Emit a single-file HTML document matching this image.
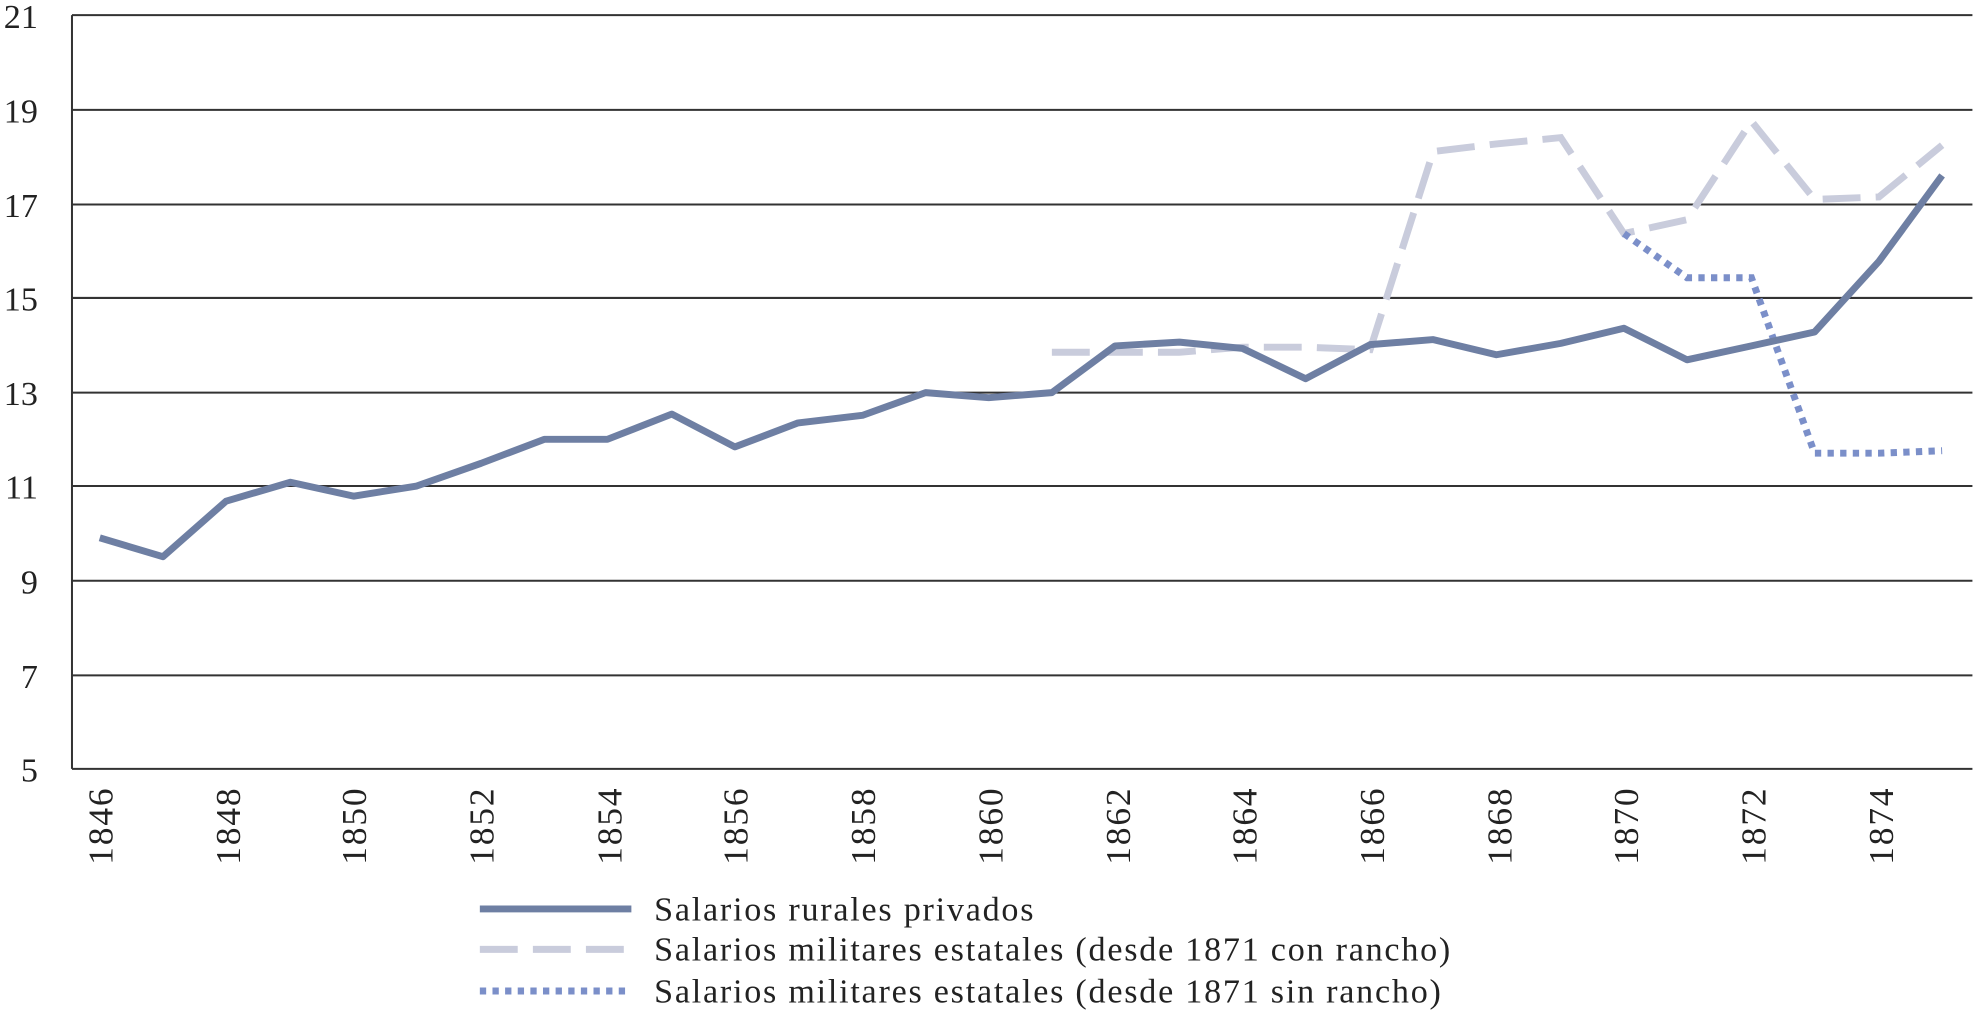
<!DOCTYPE html>
<html><head><meta charset="utf-8"><style>
html,body{margin:0;padding:0;background:#fff;}
svg{display:block;}
text{font-family:"Liberation Serif","DejaVu Serif",serif;fill:#222;}
</style></head><body>
<svg width="1980" height="1015" viewBox="0 0 1568 804" preserveAspectRatio="none" xmlns="http://www.w3.org/2000/svg">
<g stroke="#333" stroke-width="1.6">
<line x1="57" y1="12" x2="1562" y2="12"/>
<line x1="57" y1="87" x2="1562" y2="87"/>
<line x1="57" y1="162" x2="1562" y2="162"/>
<line x1="57" y1="236" x2="1562" y2="236"/>
<line x1="57" y1="311" x2="1562" y2="311"/>
<line x1="57" y1="385" x2="1562" y2="385"/>
<line x1="57" y1="460" x2="1562" y2="460"/>
<line x1="57" y1="535" x2="1562" y2="535"/>
<line x1="57" y1="609" x2="1562" y2="609"/>
<line x1="57" y1="12" x2="57" y2="609"/>
</g>
<g font-size="27" text-anchor="end">
<text x="30" y="22">21</text><text x="30" y="97">19</text><text x="30" y="172">17</text><text x="30" y="246">15</text><text x="30" y="321">13</text><text x="30" y="395">11</text><text x="30" y="470">9</text><text x="30" y="545">7</text><text x="30" y="619">5</text>
</g>
<g font-size="28" text-anchor="end" letter-spacing="1.5">
<text transform="translate(89,623) rotate(-90)">1846</text>
<text transform="translate(190,623) rotate(-90)">1848</text>
<text transform="translate(290,623) rotate(-90)">1850</text>
<text transform="translate(391,623) rotate(-90)">1852</text>
<text transform="translate(492,623) rotate(-90)">1854</text>
<text transform="translate(592,623) rotate(-90)">1856</text>
<text transform="translate(693,623) rotate(-90)">1858</text>
<text transform="translate(794,623) rotate(-90)">1860</text>
<text transform="translate(895,623) rotate(-90)">1862</text>
<text transform="translate(995,623) rotate(-90)">1864</text>
<text transform="translate(1096,623) rotate(-90)">1866</text>
<text transform="translate(1197,623) rotate(-90)">1868</text>
<text transform="translate(1297,623) rotate(-90)">1870</text>
<text transform="translate(1398,623) rotate(-90)">1872</text>
<text transform="translate(1499,623) rotate(-90)">1874</text>
</g>
<polyline fill="none" stroke="#c9ccdc" stroke-width="5.5" stroke-dasharray="30,12" points="833,279 883,279 934,279 984,275 1034,275 1085,277 1135,120 1185,114 1236,109 1286,185 1336,174 1387,96 1437,158 1488,156 1538,115"/>
<polyline fill="none" stroke="#7b8fc9" stroke-width="5.5" stroke-dasharray="5,5" points="1286,185 1336,220 1387,220 1437,359 1488,359 1538,357"/>
<polyline fill="none" stroke="#6e7fa3" stroke-width="5.5" stroke-linejoin="round" points="79,426 129,441 179,397 230,382 280,393 330,385 381,367 431,348 481,348 532,328 582,354 632,335 683,329 733,311 783,315 833,311 883,274 934,271 984,276 1034,300 1085,273 1135,269 1185,281 1236,272 1286,260 1336,285 1387,274 1437,263 1488,207 1538,139"/>
<line x1="380" y1="720" x2="500" y2="720" stroke="#6e7fa3" stroke-width="5.5"/>
<line x1="380" y1="752" x2="500" y2="752" stroke="#c9ccdc" stroke-width="5.5" stroke-dasharray="30,12"/>
<line x1="380" y1="785" x2="500" y2="785" stroke="#7b8fc9" stroke-width="5.5" stroke-dasharray="5,5"/>
<g font-size="27" letter-spacing="1.4">
<text x="518" y="729">Salarios rurales privados</text>
<text x="518" y="761">Salarios militares estatales (desde 1871 con rancho)</text>
<text x="518" y="794">Salarios militares estatales (desde 1871 sin rancho)</text>
</g>
</svg>
</body></html>
